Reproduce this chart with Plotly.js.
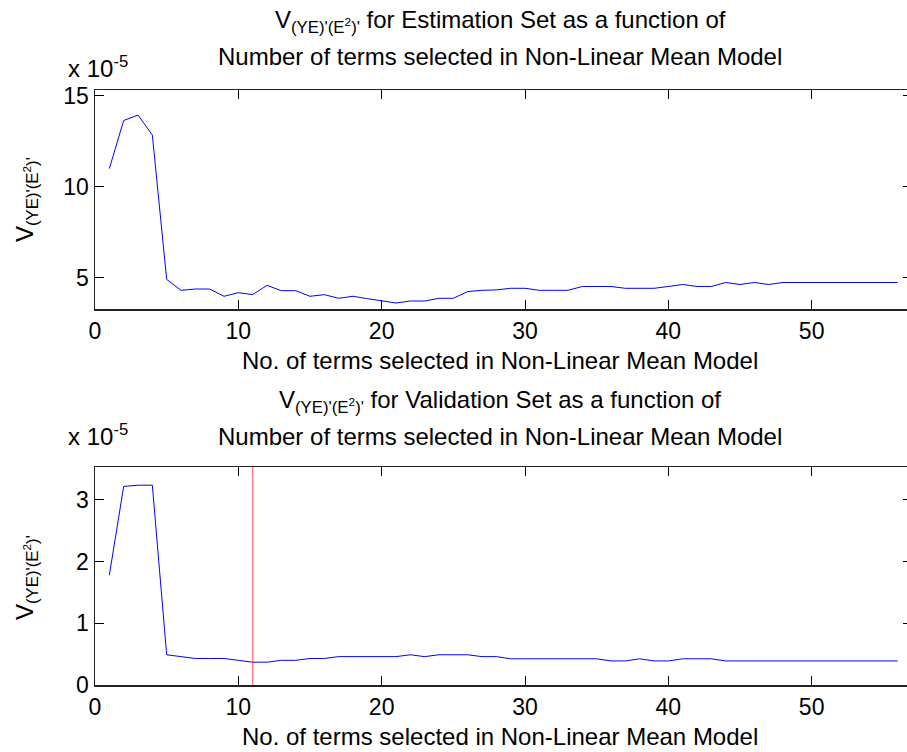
<!DOCTYPE html>
<html>
<head>
<meta charset="utf-8">
<script src="https://cdn.plot.ly/plotly-3.0.1.min.js"></script>
<style>
  html, body { margin: 0; padding: 0; overflow: hidden; background: #fff; }
  #chart { width: 916px; height: 752px; }
</style>
</head>
<body>
<div id="chart"></div>
<script>
// ---- data (values in units of 1e-5) ----
const nTerms = [1,2,3,4,5,6,7,8,9,10,11,12,13,14,15,16,17,18,19,20,21,22,23,24,25,26,27,28,
                29,30,31,32,33,34,35,36,37,38,39,40,41,42,43,44,45,46,47,48,49,50,51,52,53,54,55,56];
const estimationV = [11.0,13.65,13.95,12.85,4.9,4.3,4.37,4.37,3.97,4.17,4.06,4.57,4.28,4.28,3.97,4.06,3.86,3.97,3.84,3.7,
                     3.6,3.71,3.71,3.86,3.86,4.23,4.3,4.32,4.41,4.41,4.3,4.3,4.3,4.51,4.51,4.51,4.41,4.41,4.41,4.51,
                     4.62,4.51,4.51,4.73,4.62,4.73,4.62,4.73,4.73,4.73,4.73,4.73,4.73,4.73,4.73,4.73];
const validationV = [1.78,3.22,3.24,3.24,0.49,0.46,0.43,0.43,0.43,0.40,0.37,0.37,0.40,0.40,0.43,0.43,0.46,0.46,0.46,0.46,
                     0.46,0.49,0.46,0.49,0.49,0.49,0.46,0.46,0.425,0.425,0.425,0.425,0.425,0.425,0.425,0.39,0.39,0.425,0.39,0.39,
                     0.425,0.425,0.425,0.39,0.39,0.39,0.39,0.39,0.39,0.39,0.39,0.39,0.39,0.39,0.39,0.39];
const selectedTerms = 11;
const xTicks = [0,10,20,30,40,50];
const yTicksTop = [5,10,15];
const yTicksBottom = [0,1,2,3];
const exponentLabel = 'x 10<sup>-5</sup>';
const vLabel = "V<sub>(YE)'(E<sup>2</sup>)'</sub>";
const title1 = [vLabel + ' for Estimation Set as a function of', 'Number of terms selected in Non-Linear Mean Model'];
const title2 = [vLabel + ' for Validation Set as a function of', 'Number of terms selected in Non-Linear Mean Model'];
const xLabel = 'No. of terms selected in Non-Linear Mean Model';

// ---- layout geometry (pixels) ----
const W = 916, H = 752, L = 95, R = 4;
const PW = W - L - R;
const px = x => (x - L) / PW;
const py = y => 1 - y / H;
const FONT = 'Arial, "Liberation Sans", sans-serif';
const FS = 24;

const axisCommon = {
  showline: true, linecolor: '#222', linewidth: 1.5, mirror: 'ticks',
  ticks: 'inside', ticklen: 9, tickwidth: 1, tickcolor: '#000',
  showgrid: false, zeroline: false,
  tickfont: {family: FONT, size: 23, color: '#000'}
};

const traces = [
  {x: nTerms, y: estimationV, type: 'scatter', mode: 'lines', xaxis: 'x', yaxis: 'y',
   line: {color: '#0000ff', width: 1}, hoverinfo: 'skip'},
  {x: nTerms, y: validationV, type: 'scatter', mode: 'lines', xaxis: 'x2', yaxis: 'y2',
   line: {color: '#0000ff', width: 1}, hoverinfo: 'skip'}
];

function ann(text, x, y, extra) {
  return Object.assign({text: text, xref: 'paper', yref: 'paper', x: px(x), y: py(y),
    showarrow: false, xanchor: 'center', yanchor: 'middle',
    font: {family: FONT, size: FS, color: '#000'}}, extra || {});
}

const layout = {
  width: W, height: H,
  margin: {l: L, r: R, t: 0, b: 0, pad: 0},
  paper_bgcolor: '#fff', plot_bgcolor: '#fff',
  showlegend: false,
  xaxis: Object.assign({}, axisCommon, {domain: [0, 1], range: [0, 57], tickvals: xTicks, anchor: 'y', ticklabelstandoff: 1}),
  yaxis: Object.assign({}, axisCommon, {domain: [py(309), py(90)], range: [3.27, 15.33], tickvals: yTicksTop, anchor: 'x'}),
  xaxis2: Object.assign({}, axisCommon, {domain: [0, 1], range: [0, 57], tickvals: xTicks, anchor: 'y2', ticklabelstandoff: 1}),
  yaxis2: Object.assign({}, axisCommon, {domain: [py(685), py(467)], range: [0, 3.535], tickvals: yTicksBottom, anchor: 'x2'}),
  shapes: [
    {type: 'line', xref: 'x2', yref: 'y2 domain', x0: selectedTerms, x1: selectedTerms, y0: 0, y1: 1,
     line: {color: 'rgba(255,0,0,0.5)', width: 1.5}}
  ],
  annotations: [
    ann(title1[0], 500, 21),
    ann(title1[1], 500, 56),
    ann(exponentLabel, 98, 67),
    ann(vLabel, 26, 200, {textangle: -90}),
    ann(xLabel, 500, 360),
    ann(title2[0], 500, 401),
    ann(title2[1], 500, 437),
    ann(exponentLabel, 98, 435),
    ann(vLabel, 26, 578, {textangle: -90}),
    ann(xLabel, 500, 736)
  ]
};

Plotly.newPlot('chart', traces, layout, {staticPlot: true, displayModeBar: false});
</script>
</body>
</html>
